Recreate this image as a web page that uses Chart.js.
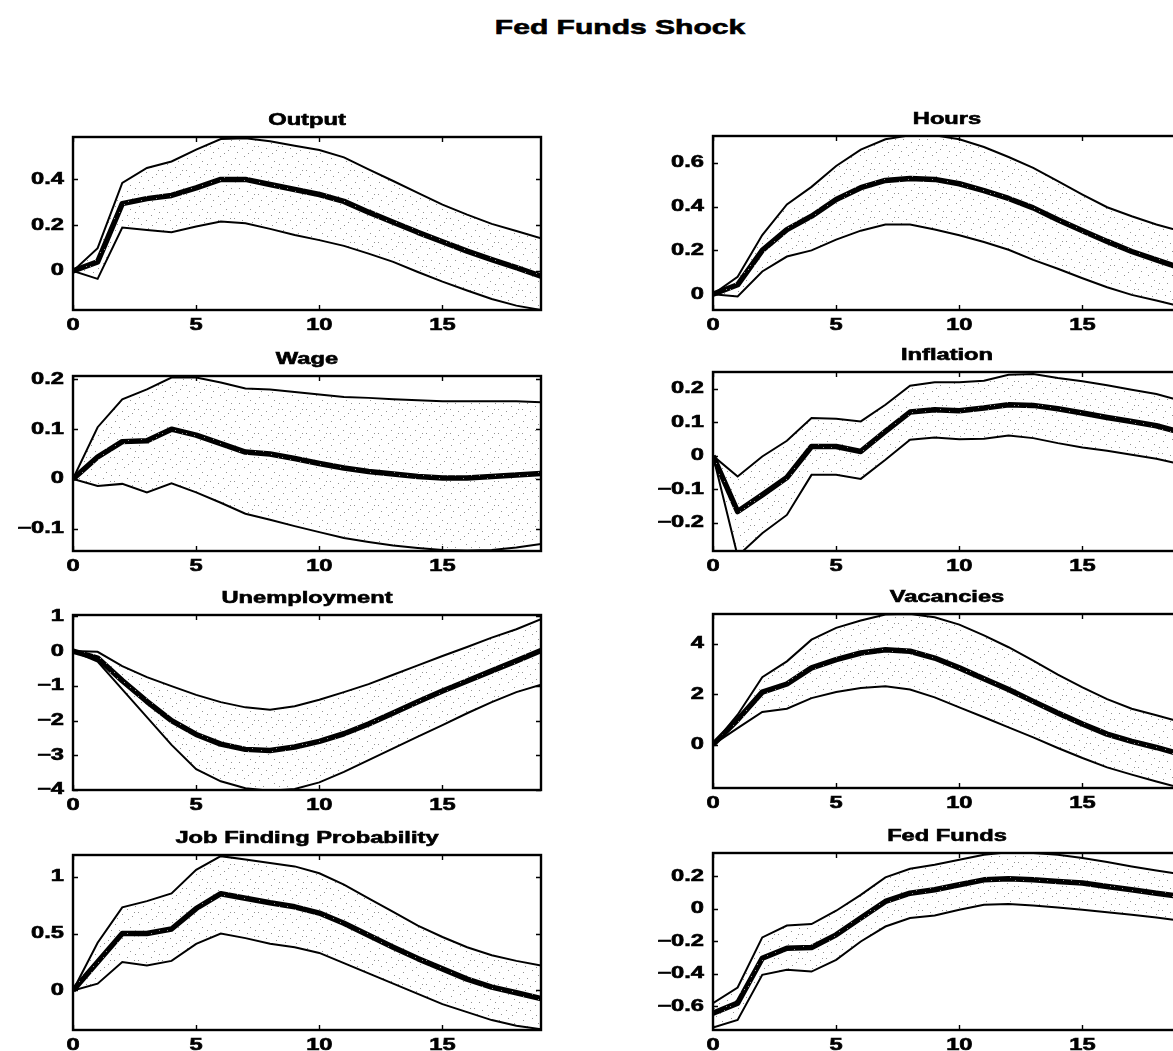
<!DOCTYPE html>
<html>
<head>
<meta charset="utf-8">
<title>Fed Funds Shock</title>
<script src="https://cdn.jsdelivr.net/npm/chart.js@4/dist/chart.umd.min.js"></script>
<style>
  html, body { margin: 0; padding: 0; background: #fff; overflow: hidden; }
  #page { position: relative; width: 1173px; height: 1051px; overflow: hidden; background: #fff; }
  .panel { position: absolute; }
  #mainTitle {
    position: absolute; left: 620px; top: 16px;
    font: bold 21px/21px "Liberation Sans", Arial, sans-serif;
    color: #000; white-space: nowrap;
    -webkit-text-stroke: 0.6px #000;
    transform: translateX(-50%) scaleX(1.43);
  }
</style>
</head>
<body>
<div id="page">
  <div id="mainTitle">Fed Funds Shock</div>
</div>
<script>
// Horizon (quarters after the shock)
const steps = [0, 1, 2, 3, 4, 5, 6, 7, 8, 9, 10, 11, 12, 13, 14, 15, 16, 17, 18, 19];
const xTicks = [0, 5, 10, 15];

// Output
const outputUpper  = [0, 0.10, 0.385, 0.45, 0.478, 0.53, 0.576, 0.58, 0.566, 0.547, 0.528, 0.496, 0.444, 0.393, 0.341, 0.29, 0.246, 0.206, 0.175, 0.143];
const outputMedian = [0, 0.04, 0.294, 0.316, 0.33, 0.363, 0.40, 0.40, 0.378, 0.356, 0.334, 0.304, 0.257, 0.213, 0.169, 0.128, 0.087, 0.05, 0.015, -0.022];
const outputLower  = [0, -0.034, 0.19, 0.179, 0.169, 0.194, 0.216, 0.209, 0.184, 0.157, 0.135, 0.11, 0.076, 0.04, -0.004, -0.046, -0.085, -0.122, -0.151, -0.17];
const outputYTicks = [0, 0.2, 0.4];
const outputYRange = [-0.17, 0.585];

// Hours
const hoursUpper  = [0, 0.08, 0.27, 0.41, 0.49, 0.585, 0.66, 0.707, 0.725, 0.725, 0.707, 0.672, 0.626, 0.577, 0.516, 0.455, 0.397, 0.356, 0.318, 0.287];
const hoursMedian = [0, 0.043, 0.2, 0.295, 0.356, 0.432, 0.486, 0.519, 0.528, 0.524, 0.504, 0.473, 0.437, 0.394, 0.34, 0.29, 0.241, 0.195, 0.157, 0.119];
const hoursLower  = [0, -0.01, 0.104, 0.172, 0.2, 0.249, 0.29, 0.318, 0.318, 0.295, 0.269, 0.238, 0.203, 0.157, 0.116, 0.073, 0.032, -0.003, -0.029, -0.056];
const hoursYTicks = [0, 0.2, 0.4, 0.6];
const hoursYRange = [-0.072, 0.722];

// Wage
const wageUpper  = [0, 0.104, 0.16, 0.18, 0.204, 0.204, 0.194, 0.182, 0.18, 0.175, 0.17, 0.165, 0.163, 0.16, 0.158, 0.156, 0.156, 0.156, 0.156, 0.154];
const wageMedian = [0, 0.044, 0.075, 0.077, 0.1, 0.088, 0.071, 0.054, 0.05, 0.041, 0.031, 0.022, 0.015, 0.01, 0.005, 0.002, 0.002, 0.005, 0.008, 0.011];
const wageLower  = [0, -0.014, -0.01, -0.027, -0.009, -0.027, -0.048, -0.07, -0.082, -0.095, -0.107, -0.119, -0.127, -0.134, -0.139, -0.143, -0.144, -0.143, -0.138, -0.131];
const wageYTicks = [-0.1, 0, 0.1, 0.2];
const wageYRange = [-0.145, 0.207];

// Inflation
const inflationUpper  = [0, -0.062, -0.002, 0.045, 0.113, 0.111, 0.103, 0.153, 0.21, 0.22, 0.22, 0.225, 0.243, 0.245, 0.233, 0.223, 0.211, 0.198, 0.185, 0.165];
const inflationMedian = [0, -0.167, -0.117, -0.065, 0.028, 0.028, 0.013, 0.073, 0.131, 0.138, 0.135, 0.143, 0.153, 0.151, 0.141, 0.128, 0.115, 0.103, 0.09, 0.07];
const inflationLower  = [0, -0.30, -0.232, -0.177, -0.057, -0.057, -0.069, -0.012, 0.048, 0.055, 0.05, 0.051, 0.061, 0.053, 0.038, 0.025, 0.015, 0.003, -0.009, -0.025];
const inflationYTicks = [-0.2, -0.1, 0, 0.1, 0.2];
const inflationYRange = [-0.285, 0.251];

// Unemployment
const unempUpper  = [0, -0.02, -0.43, -0.75, -1.01, -1.26, -1.47, -1.62, -1.69, -1.59, -1.40, -1.18, -0.95, -0.68, -0.41, -0.14, 0.12, 0.39, 0.63, 0.92];
const unempMedian = [0, -0.2, -0.85, -1.45, -2.0, -2.4, -2.68, -2.83, -2.86, -2.76, -2.6, -2.38, -2.1, -1.78, -1.46, -1.15, -0.86, -0.57, -0.28, 0.02];
const unempLower  = [0, -0.3, -1.1, -1.9, -2.7, -3.4, -3.75, -3.95, -4.02, -3.97, -3.78, -3.48, -3.14, -2.80, -2.46, -2.13, -1.79, -1.47, -1.18, -0.97];
const unempYTicks = [-4, -3, -2, -1, 0, 1];
const unempYRange = [-4.0, 1.04];

// Vacancies
const vacUpper  = [0, 1.19, 2.68, 3.31, 4.17, 4.64, 4.93, 5.17, 5.19, 5.06, 4.77, 4.34, 3.87, 3.34, 2.78, 2.28, 1.81, 1.43, 1.17, 0.9];
const vacMedian = [0, 0.99, 2.09, 2.41, 3.05, 3.38, 3.64, 3.77, 3.71, 3.44, 3.05, 2.62, 2.19, 1.72, 1.26, 0.82, 0.42, 0.13, -0.11, -0.38];
const vacLower  = [0, 0.66, 1.3, 1.43, 1.85, 2.09, 2.25, 2.32, 2.19, 1.88, 1.48, 1.09, 0.69, 0.29, -0.13, -0.53, -0.9, -1.19, -1.46, -1.72];
const vacYTicks = [0, 2, 4];
const vacYRange = [-1.72, 5.19];

// Job finding probability
const jfpUpper  = [0, 0.42, 0.73, 0.785, 0.853, 1.06, 1.18, 1.15, 1.12, 1.09, 1.03, 0.93, 0.81, 0.69, 0.57, 0.47, 0.38, 0.31, 0.26, 0.22];
const jfpMedian = [0, 0.25, 0.5, 0.5, 0.54, 0.72, 0.85, 0.81, 0.77, 0.735, 0.68, 0.59, 0.485, 0.38, 0.28, 0.19, 0.10, 0.03, -0.02, -0.07];
const jfpLower  = [0, 0.06, 0.25, 0.22, 0.26, 0.41, 0.50, 0.46, 0.41, 0.38, 0.33, 0.24, 0.15, 0.06, -0.03, -0.12, -0.19, -0.26, -0.31, -0.34];
const jfpYTicks = [0, 0.5, 1];
const jfpYRange = [-0.347, 1.19];

// Fed funds rate
const ffUpper  = [-0.58, -0.484, -0.176, -0.103, -0.094, -0.012, 0.086, 0.193, 0.246, 0.271, 0.302, 0.332, 0.347, 0.343, 0.332, 0.312, 0.287, 0.26, 0.236, 0.213];
const ffMedian = [-0.642, -0.58, -0.304, -0.242, -0.238, -0.16, -0.057, 0.045, 0.096, 0.117, 0.148, 0.178, 0.185, 0.178, 0.168, 0.158, 0.137, 0.117, 0.096, 0.076];
const ffLower  = [-0.73, -0.683, -0.406, -0.375, -0.386, -0.314, -0.201, -0.109, -0.057, -0.041, -0.006, 0.025, 0.029, 0.021, 0.008, -0.006, -0.021, -0.037, -0.053, -0.074];
const ffYTicks = [-0.6, -0.4, -0.2, 0, 0.2];
const ffYRange = [-0.745, 0.343];

// Panel contents
const panels = [
  { title: 'Output', upper: outputUpper, median: outputMedian, lower: outputLower, yTicks: outputYTicks, yRange: outputYRange },
  { title: 'Hours', upper: hoursUpper, median: hoursMedian, lower: hoursLower, yTicks: hoursYTicks, yRange: hoursYRange },
  { title: 'Wage', upper: wageUpper, median: wageMedian, lower: wageLower, yTicks: wageYTicks, yRange: wageYRange },
  { title: 'Inflation', upper: inflationUpper, median: inflationMedian, lower: inflationLower, yTicks: inflationYTicks, yRange: inflationYRange },
  { title: 'Unemployment', upper: unempUpper, median: unempMedian, lower: unempLower, yTicks: unempYTicks, yRange: unempYRange },
  { title: 'Vacancies', upper: vacUpper, median: vacMedian, lower: vacLower, yTicks: vacYTicks, yRange: vacYRange },
  { title: 'Job Finding Probability', upper: jfpUpper, median: jfpMedian, lower: jfpLower, yTicks: jfpYTicks, yRange: jfpYRange },
  { title: 'Fed Funds', upper: ffUpper, median: ffMedian, lower: ffLower, yTicks: ffYTicks, yRange: ffYRange }
];

// Plot-box placement on the page (left/right column, four rows)
const boxes = [
  { left: 73, right: 541, top: 137, bottom: 310 },
  { left: 713, right: 1181, top: 136, bottom: 310 },
  { left: 73, right: 541, top: 376, bottom: 551 },
  { left: 713, right: 1181, top: 372, bottom: 551 },
  { left: 73, right: 541, top: 615, bottom: 790 },
  { left: 713, right: 1181, top: 614, bottom: 788 },
  { left: 73, right: 541, top: 855, bottom: 1030 },
  { left: 713, right: 1181, top: 853, bottom: 1030 }
];

const FONT_FAMILY = '"Liberation Sans", Arial, Helvetica, sans-serif';
const TEXT_STRETCH = 1.48;

// Sparse stipple used to shade the band between the bounds
const stippleDots = [[2,3],[11,1],[17,6],[6,9],[14,12],[1,15],[9,17],[19,19],[4,21],[15,22],[22,9],[21,15]];
function makeStipple() {
  const c = document.createElement('canvas');
  c.width = 24; c.height = 24;
  const g = c.getContext('2d');
  g.fillStyle = '#909090';
  stippleDots.forEach(([x, y]) => g.fillRect(x, y, 1, 1));
  return g.createPattern(c, 'repeat');
}
const stipple = makeStipple();

function fmtTick(v) {
  const s = String(Math.abs(Math.round(v * 1000) / 1000));
  return v < 0 ? '\u2212' + s : s;
}

function series(values) {
  return values.map((v, i) => ({ x: steps[i], y: v }));
}

// Wide, heavy lettering used throughout the figure
const wideText = {
  id: 'wideText',
  beforeInit(chart) {
    const ctx = chart.ctx;
    const fill = CanvasRenderingContext2D.prototype.fillText;
    const stroke = CanvasRenderingContext2D.prototype.strokeText;
    ctx.fillText = function (t, x, y) {
      this.save();
      this.translate(x, y);
      this.scale(TEXT_STRETCH, 1);
      fill.call(this, t, 0, 0);
      this.lineWidth = 0.6;
      this.strokeStyle = this.fillStyle;
      stroke.call(this, t, 0, 0);
      this.restore();
    };
  }
};

// Boxed axes with inward tick marks on all four sides
const boxFrame = {
  id: 'boxFrame',
  afterDatasetsDraw(chart) {
    const { ctx, chartArea: a, scales } = chart;
    const len = 5;
    ctx.save();
    ctx.strokeStyle = '#000';
    ctx.lineWidth = 1.4;
    ctx.beginPath();
    scales.x.ticks.forEach(t => {
      const px = Math.round(scales.x.getPixelForValue(t.value)) + 0.5;
      ctx.moveTo(px, a.bottom); ctx.lineTo(px, a.bottom - len);
      ctx.moveTo(px, a.top); ctx.lineTo(px, a.top + len);
    });
    scales.y.ticks.forEach(t => {
      const py = Math.round(scales.y.getPixelForValue(t.value)) + 0.5;
      ctx.moveTo(a.left, py); ctx.lineTo(a.left + len, py);
      ctx.moveTo(a.right, py); ctx.lineTo(a.right - len, py);
    });
    ctx.stroke();
    ctx.lineWidth = 2.4;
    ctx.strokeRect(a.left, a.top, a.right - a.left, a.bottom - a.top);
    ctx.restore();
  }
};

const YW = 80;       // y-axis strip width
const XH = 34;       // x-axis strip height
const RP = 6;        // right padding
const LT = 4;        // top padding
const T = LT + 20 + 6; // title line + gap above the box

const page = document.getElementById('page');

panels.forEach((p, i) => {
  const box = boxes[i];
  const plotW = box.right - box.left;
  const plotH = box.bottom - box.top;
  const W = YW + plotW + RP;
  const H = T + plotH + XH;

  const wrap = document.createElement('div');
  wrap.className = 'panel';
  wrap.style.left = (box.left - YW) + 'px';
  wrap.style.top = (box.top - T) + 'px';
  const cv = document.createElement('canvas');
  cv.width = W; cv.height = H;
  cv.style.width = W + 'px'; cv.style.height = H + 'px';
  wrap.appendChild(cv);
  page.appendChild(wrap);

  const tickFont = { family: FONT_FAMILY, size: 16, weight: 'bold' };

  const chart = new Chart(cv, {
    type: 'line',
    data: {
      datasets: [
        { data: series(p.lower), borderColor: '#000', borderWidth: 2, pointRadius: 0, fill: false, tension: 0 },
        { data: series(p.upper), borderColor: '#000', borderWidth: 2, pointRadius: 0, fill: '-1', backgroundColor: stipple, tension: 0 },
        { data: series(p.median), borderColor: '#000', borderWidth: 5.5, pointRadius: 0, fill: false, tension: 0, borderJoinStyle: 'round' }
      ]
    },
    options: {
      responsive: false,
      animation: false,
      devicePixelRatio: 1,
      events: [],
      layout: { padding: { top: LT, right: RP, left: 0, bottom: 0 } },
      plugins: {
        legend: { display: false },
        tooltip: { enabled: false },
        title: {
          display: true, text: p.title, fullSize: false, color: '#000',
          font: { family: FONT_FAMILY, size: 16, weight: 'bold', lineHeight: 1.25 },
          padding: { top: 0, bottom: 6 }
        }
      },
      scales: {
        x: {
          type: 'linear', min: 0, max: 19,
          afterBuildTicks: s => { s.ticks = xTicks.map(v => ({ value: v })); },
          afterFit: s => { s.height = XH; },
          grid: { display: false, drawTicks: false },
          border: { display: false },
          ticks: { font: tickFont, color: '#000', padding: 6, maxRotation: 0, autoSkip: false, callback: v => fmtTick(v) }
        },
        y: {
          type: 'linear', min: p.yRange[0], max: p.yRange[1],
          afterBuildTicks: s => { s.ticks = p.yTicks.map(v => ({ value: v })); },
          afterFit: s => { s.width = YW; },
          grid: { display: false, drawTicks: false },
          border: { display: false },
          ticks: { font: tickFont, color: '#000', padding: 9, autoSkip: false, callback: v => fmtTick(v) }
        }
      }
    },
    plugins: [wideText, boxFrame]
  });

  // keep the plot box exactly where it belongs on the page
  const a = chart.chartArea;
  wrap.style.left = (box.left - a.left) + 'px';
  wrap.style.top = (box.top - a.top) + 'px';
});
</script>
</body>
</html>
